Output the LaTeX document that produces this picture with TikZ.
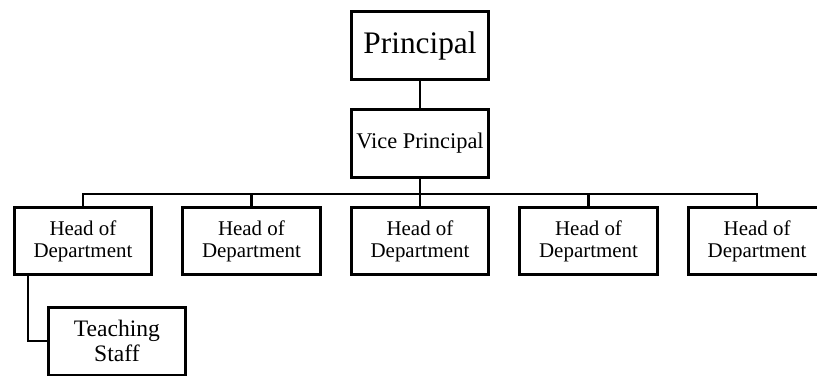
\documentclass[tikz,border=0pt]{standalone}
\usepackage{fontspec}
\setmainfont{Liberation Serif}
\usepackage{tikz}
\usetikzlibrary{calc}
\tikzstyle{post} = [rectangle, draw, line width=2.2pt, text centered, align=center, minimum width=103pt, minimum height=50.5pt, inner sep=0pt]
\tikzstyle{connector} = [line width=1.6pt]

\begin{document}
\begin{tikzpicture}[node distance = 73.6pt]
            \clip (-315pt,-247.9pt) rectangle (297.75pt,34.1pt);
            \useasboundingbox (-315pt,-247.9pt) rectangle (297.75pt,34.1pt);
            \node (principal) [post,font=\fontsize{23.5}{28}\selectfont] {Principal};
            \node (vice) [post,below of = principal,font=\fontsize{16.8}{19}\selectfont] {Vice Principal};
            \node (head3) [post,below of = vice,yshift=0.4pt,font=\fontsize{15.7}{16.3}\selectfont] {Head of\\Department};
            \node (head2) [post,left of = head3,xshift=-52.8pt,font=\fontsize{15.7}{16.3}\selectfont] {Head of\\Department};
            \node (head1) [post,left of = head2,xshift=-52.8pt,font=\fontsize{15.7}{16.3}\selectfont] {Head of\\Department};
            \node (head4) [post,right of = head3,xshift=52.8pt,font=\fontsize{15.7}{16.3}\selectfont] {Head of\\Department};
            \node (head5) [post,right of = head4,xshift=52.8pt,font=\fontsize{15.7}{16.3}\selectfont] {Head of\\Department};
            \node (teaching) [post,below of = head1,xshift=25.5pt,yshift=-1.5pt,font=\fontsize{17.7}{18.8}\selectfont] {Teaching\\Staff};
            \coordinate (bus) at ($(vice.south)+(0,-11.25pt)$);
            \draw [connector] (principal) -- (vice);
            \draw [connector] (vice.south) -- (bus);
            \draw [connector] (bus) -| (head1.north);
            \draw [connector] (bus) -| (head2.north);
            \draw [connector] (bus) -- (head3.north);
            \draw [connector] (bus) -| (head4.north);
            \draw [connector] (bus) -| (head5.north);
            \draw [connector] ($(head1.south)+(-41.25pt,0)$) |- (teaching.west);
        \end{tikzpicture}
\end{document}
